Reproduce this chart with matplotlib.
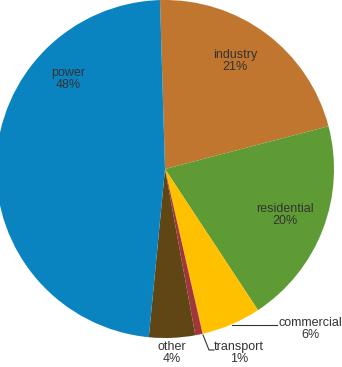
import matplotlib.pyplot as plt

plt.rcParams['font.family'] = ['Liberation Sans', 'DejaVu Sans']

# data, clockwise from 12 o'clock
sectors = ["industry", "residential", "commercial", "transport", "other", "power"]
shares = [21.4, 19.8, 5.7, 0.7, 4.4, 48.0]
colors = ["#C0762F", "#5F9B34", "#FFC000", "#A3363C", "#5F4614", "#0A83C1"]

W, H = 342, 367
cx, cy, r = 165, 169, 169  # pie centre/radius in pixels

fig = plt.figure(figsize=(W / 100, H / 100), dpi=100)
ax = fig.add_axes([(cx - r) / W, (H - cy - r) / H, 2 * r / W, 2 * r / H])
ax.pie(shares, colors=colors, startangle=91.7, counterclock=False,
       wedgeprops=dict(linewidth=0))
ax.set_xlim(-1, 1)
ax.set_ylim(-1, 1)
ax.set_aspect('auto')
ax.axis('off')


def px(x, y):
    return ((x - cx) / r, (cy - y) / r)


labels = [f"{s}\n{v:.0f}%" for s, v in zip(sectors, shares)]
label_px = {
    "industry": (235, 61),
    "residential": (285, 215),
    "commercial": (310, 329),
    "transport": (239, 353),
    "other": (172, 353),
    "power": (68, 79),
}
txt = "#333333"
for s, lab in zip(sectors, labels):
    x, y = px(*label_px[s])
    ax.text(x, y, lab, ha='center', va='center', fontsize=9, color=txt,
            linespacing=1.05, clip_on=False)

# leader lines
lx, ly = zip(*[px(232, 325), px(277, 325)])
ax.plot(lx, ly, color=txt, lw=0.8, clip_on=False)
lx, ly = zip(*[px(203, 335), px(209, 350), px(214, 350)])
ax.plot(lx, ly, color=txt, lw=0.8, clip_on=False)

fig.savefig("out.png", dpi=100)
